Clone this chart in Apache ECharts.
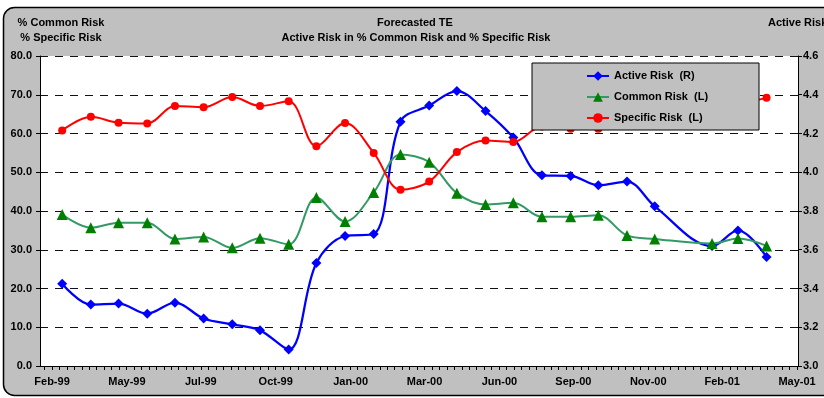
<!DOCTYPE html>
<html>
<head>
<meta charset="utf-8">
<title>Forecasted TE</title>
<script src="https://cdn.jsdelivr.net/npm/echarts@6/dist/echarts.min.js"></script>
<style>
  html, body { margin: 0; padding: 0; background: #ffffff; }
  #chart { width: 824px; height: 398px; }
</style>
</head>
<body>
<div id="chart"></div>
<script>
// Month-end observation dates (December 2000 has no observation)
const dates = [
  '1999-02-28', '1999-03-31', '1999-04-30', '1999-05-31', '1999-06-30',
  '1999-07-31', '1999-08-31', '1999-09-30', '1999-10-31', '1999-11-30',
  '1999-12-31', '2000-01-31', '2000-02-29', '2000-03-31', '2000-04-30',
  '2000-05-31', '2000-06-30', '2000-07-31', '2000-08-31', '2000-09-30',
  '2000-10-31', '2000-11-30', '2001-01-31', '2001-02-28', '2001-03-31'
];

// Active risk, right-hand scale
const activeRisk = [
  3.425, 3.317, 3.322, 3.270, 3.327, 3.245, 3.215, 3.184, 3.085, 3.531,
  3.671, 3.681, 4.261, 4.344, 4.419, 4.316, 4.179, 3.984, 3.981, 3.933,
  3.952, 3.824, 3.619, 3.700, 3.563
];

// Common risk share (%), left-hand scale
const commonRisk = [
  39.1, 35.7, 37.0, 37.0, 32.8, 33.3, 30.5, 33.0, 31.4, 43.5,
  37.3, 44.8, 54.6, 52.6, 44.6, 41.7, 42.1, 38.5, 38.5, 38.9,
  33.7, 32.8, 31.6, 32.9, 31.0
];

// Specific risk share (%), left-hand scale
const specificRisk = [
  60.8, 64.3, 62.8, 62.6, 67.1, 66.8, 69.4, 67.1, 68.3, 56.7,
  62.7, 55.0, 45.5, 47.6, 55.2, 58.2, 57.8, 61.8, 61.2, 61.2,
  64.0, 65.0, 66.0, 67.5, 69.2
];

// Date axis: range and labelled ticks
const axisStart = '1999-02-04';
const axisEnd = '2001-05-04';
const tickDates = [
  '1999-02-17', '1999-05-09', '1999-07-28', '1999-10-17', '2000-01-06',
  '2000-03-26', '2000-06-15', '2000-09-03', '2000-11-23', '2001-02-11',
  '2001-05-03'
];
const tickLabels = [
  'Feb-99', 'May-99', 'Jul-99', 'Oct-99', 'Jan-00', 'Mar-00',
  'Jun-00', 'Sep-00', 'Nov-00', 'Feb-01', 'May-01'
];

const seriesNames = ['Active Risk  (R)', 'Common Risk  (L)', 'Specific Risk  (L)'];

const FONT = '"Liberation Sans", Arial, sans-serif';
const xMin = Date.parse(axisStart);
const xMax = Date.parse(axisEnd);
const tickTimes = tickDates.map(d => Date.parse(d));

// Small tick marks: ten per labelled interval across the whole axis
const minorStep = (tickTimes[tickTimes.length - 1] - tickTimes[0]) / ((tickTimes.length - 1) * 10);
const minorTicks = [];
for (let t = tickTimes[0]; t >= xMin; t -= minorStep) minorTicks.unshift(t);
for (let t = tickTimes[0] + minorStep; t <= xMax; t += minorStep) minorTicks.push(t);

const toPoints = vals => dates.map((d, i) => [Date.parse(d), vals[i]]);

// Legend panel spans a fixed box; pad the legend out to that width
const LEGEND_BOX = { x: 532, y: 63, w: 226, h: 67 };
const LEGEND_ICON_LEFT = 586;
const measureCtx = document.createElement('canvas').getContext('2d');
measureCtx.font = 'bold 11px ' + FONT;
const legendTextW = Math.max(...seriesNames.map(n => measureCtx.measureText(n).width));
const padLeft = LEGEND_ICON_LEFT - LEGEND_BOX.x;
const padRight = Math.max(0, LEGEND_BOX.w - padLeft - (22 + 5 + legendTextW));

const chart = echarts.init(document.getElementById('chart'), null, { renderer: 'canvas' });

const labelStyle = { fontFamily: FONT, fontWeight: 'bold', fontSize: 11, color: '#000' };
const headFont = 'bold 11px ' + FONT;

chart.setOption({
  animation: false,
  backgroundColor: 'transparent',
  textStyle: { fontFamily: FONT },
  graphic: [
    {
      type: 'rect', z: -10, silent: true,
      shape: { x: 3.5, y: 7.5, width: 860, height: 388, r: 11 },
      style: { fill: '#c0c0c0', stroke: '#000', lineWidth: 1.5 }
    },
    {
      type: 'text', x: 61, y: 23,
      style: { text: '% Common Risk', font: headFont, fill: '#000', align: 'center', verticalAlign: 'middle' }
    },
    {
      type: 'text', x: 61, y: 38,
      style: { text: '% Specific Risk', font: headFont, fill: '#000', align: 'center', verticalAlign: 'middle' }
    },
    {
      type: 'text', x: 415, y: 23,
      style: { text: 'Forecasted TE', font: headFont, fill: '#000', align: 'center', verticalAlign: 'middle' }
    },
    {
      type: 'text', x: 416, y: 38,
      style: { text: 'Active Risk in % Common Risk and % Specific Risk', font: headFont, fill: '#000', align: 'center', verticalAlign: 'middle' }
    },
    {
      type: 'text', x: 768, y: 23,
      style: { text: 'Active Risk', font: headFont, fill: '#000', align: 'left', verticalAlign: 'middle' }
    }
  ],
  legend: {
    data: seriesNames,
    orient: 'vertical',
    left: LEGEND_BOX.x,
    top: LEGEND_BOX.y,
    padding: [7, padRight, 6, padLeft],
    backgroundColor: '#c0c0c0',
    borderColor: '#000',
    borderWidth: 1,
    itemWidth: 22,
    itemHeight: 12,
    itemGap: 9,
    z: 6,
    textStyle: { fontFamily: FONT, fontWeight: 'bold', fontSize: 11, color: '#000', lineHeight: 12 }
  },
  grid: {
    left: 40, right: 26, top: 56, bottom: 32,
    show: true, backgroundColor: '#ffffff', borderWidth: 0
  },
  xAxis: {
    type: 'value',
    min: xMin,
    max: xMax,
    axisLine: { show: true, lineStyle: { color: '#000', width: 1 } },
    axisTick: { show: true, customValues: minorTicks, length: 4, lineStyle: { color: '#000' } },
    axisLabel: {
      customValues: tickTimes,
      margin: 10,
      ...labelStyle,
      formatter: v => {
        let best = 0;
        tickTimes.forEach((t, i) => { if (Math.abs(t - v) < Math.abs(tickTimes[best] - v)) best = i; });
        return tickLabels[best];
      }
    },
    splitLine: { show: false }
  },
  yAxis: [
    {
      type: 'value', min: 0, max: 80, interval: 10,
      axisLine: { show: true, lineStyle: { color: '#000', width: 1 } },
      axisTick: { show: true, length: 4, lineStyle: { color: '#000' } },
      axisLabel: { margin: 8, ...labelStyle, formatter: v => v.toFixed(1) },
      splitLine: { show: true, lineStyle: { color: '#111', width: 1, type: [8, 7] } }
    },
    {
      type: 'value', min: 3.0, max: 4.6, interval: 0.2,
      position: 'right',
      axisLine: { show: true, lineStyle: { color: '#000', width: 1 } },
      axisTick: { show: true, length: 4, lineStyle: { color: '#000' } },
      axisLabel: { margin: 5, ...labelStyle, formatter: v => v.toFixed(1) },
      splitLine: { show: false }
    }
  ],
  series: [
    {
      name: seriesNames[0], type: 'line', yAxisIndex: 1,
      data: toPoints(activeRisk),
      smooth: 0.35,
      symbol: 'diamond', symbolSize: 10,
      lineStyle: { color: '#0000ff', width: 2.25 },
      itemStyle: { color: '#0000ff' }
    },
    {
      name: seriesNames[1], type: 'line', yAxisIndex: 0,
      data: toPoints(commonRisk),
      smooth: 0.35,
      symbol: 'triangle', symbolSize: 11,
      lineStyle: { color: '#339966', width: 2 },
      itemStyle: { color: '#008000' }
    },
    {
      name: seriesNames[2], type: 'line', yAxisIndex: 0,
      data: toPoints(specificRisk),
      smooth: 0.35,
      symbol: 'circle', symbolSize: 8,
      lineStyle: { color: '#ff0000', width: 2 },
      itemStyle: { color: '#ff0000' }
    }
  ]
});
</script>
</body>
</html>
